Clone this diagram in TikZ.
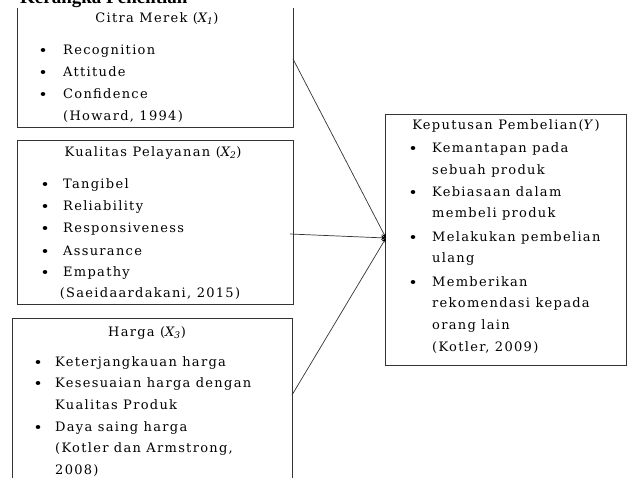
\documentclass[tikz,border=0pt]{standalone}
\usepackage{fontspec}
\setmainfont{DejaVu Serif}[LetterSpace=10]
\newfontfamily\titlefont{Liberation Serif}
\usetikzlibrary{arrows.meta}
\newcommand\xsub[1]{{\itshape X\textsubscript{#1}}}
\begin{document}
\begin{tikzpicture}[x=1pt,y=-1pt,
  boxline/.style={draw=black!80, line width=0.8pt},
  txt/.style={inner sep=0pt, anchor=base west, font=\fontsize{13}{15}\selectfont},
  ttl/.style={inner sep=0pt, anchor=base, font=\fontsize{13}{15}\selectfont},
  bul/.style={fill=black},
  conn/.style={draw=black!80, line width=0.7pt, -{Stealth[length=5pt,width=4.5pt,color=black]}}]
\useasboundingbox (0,0) rectangle (627,477);
\fill[white] (0,0) rectangle (627,477);
% title
\node[inner sep=0pt, anchor=base west, font=\titlefont\bfseries\fontsize{19}{22}\selectfont] (head) at (20,3.5) {Kerangka Penelitian};
% box 1
\path (17,8) coordinate (b1a) (293,127) coordinate (b1b);
\draw[boxline] (b1a) -- (b1a |- b1b) -- (b1b) -- (b1b |- b1a);
\node[ttl] (t1) at (157,22) {Citra Merek (\xsub{1})};
\foreach \n/\y/\t in {a/54/Recognition, b/76/Attitude, c/98/Confidence}{
  \fill[bul] (43,\y-4) ellipse (2.3pt and 2pt);
  \node[txt] (i1\n) at (63,\y) {\t};
}
\node[txt] (r1) at (63,120) {(Howard, 1994)};
% box 2
\path (17,140) coordinate (b2a) (293,304) coordinate (b2b);
\draw[boxline] (b2a) rectangle (b2b);
\node[ttl] (t2) at (153,156) {Kualitas Pelayanan (\xsub{2})};
\foreach \n/\y/\t in {a/188/Tangibel, b/210/Reliability, c/232/Responsiveness, d/255/Assurance, e/276/Empathy}{
  \fill[bul] (45,\y-4) ellipse (2.3pt and 2pt);
  \node[txt] (i2\n) at (63,\y) {\t};
}
\node[ttl] (r2) at (150,297) {(Saeidaardakani, 2015)};
% box 3
\path (12,318) coordinate (b3a) (292,495) coordinate (b3b);
\draw[boxline] (b3a) rectangle (b3b);
\node[ttl] (t3) at (147,336) {Harga (\xsub{3})};
\foreach \n/\y/\t in {a/366/Keterjangkauan harga, b/387/Kesesuaian harga dengan, d/431/Daya saing harga}{
  \fill[bul] (38,\y-4) ellipse (2.3pt and 2pt);
  \node[txt] (i3\n) at (55,\y) {\t};
}
\node[txt] (i3c) at (55,409) {Kualitas Produk};
\node[txt] (r3a) at (55,452) {(Kotler dan Armstrong,};
\node[txt] (r3b) at (55,474) {2008)};
% box Y
\path (385,114) coordinate (bya) (626,365) coordinate (byb);
\draw[boxline] (bya) rectangle (byb);
\node[ttl] (ty) at (506,129) {Keputusan Pembelian(\textit{Y})};
\foreach \n/\y/\t in {a/152/Kemantapan pada, c/196/Kebiasaan dalam, e/241/Melakukan pembelian, g/286/Memberikan}{
  \fill[bul] (413,\y-4) ellipse (2.3pt and 2pt);
  \node[txt] (iy\n) at (432,\y) {\t};
}
\foreach \n/\y/\t in {b/174/sebuah produk, d/217/membeli produk, f/262/ulang, h/307/rekomendasi kepada, i/329/orang lain, j/351/{(Kotler, 2009)}}{
  \node[txt] (iy\n) at (432,\y) {\t};
}
% connectors
\coordinate (s1) at (293,59);
\coordinate (s2) at (290,234);
\coordinate (s3) at (292,395);
\coordinate (tg) at (386,238);
\draw[conn] (s1) -- (tg);
\draw[conn] (s2) -- (tg);
\draw[conn] (s3) -- (tg);
\end{tikzpicture}
\end{document}
